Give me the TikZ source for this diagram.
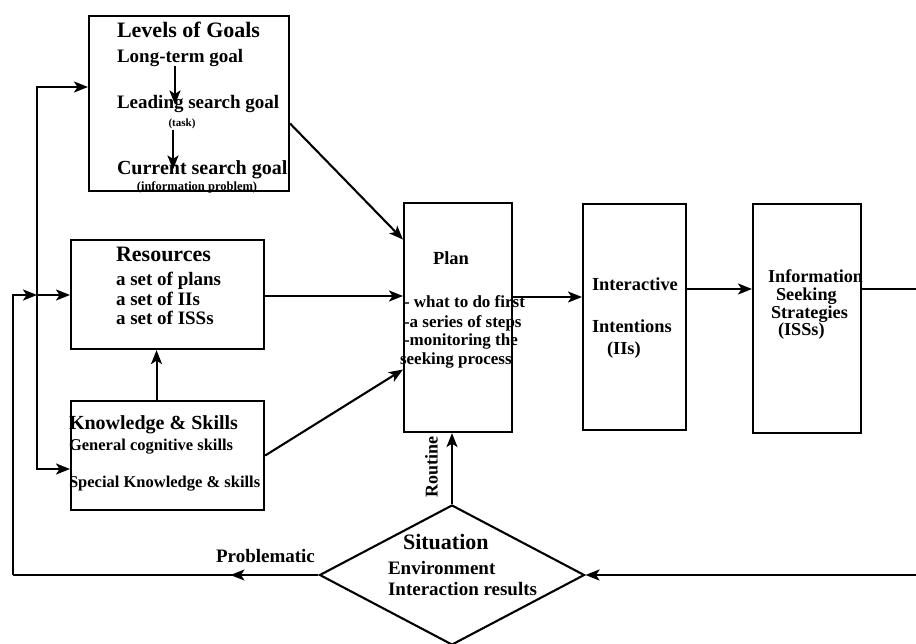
\documentclass[tikz,border=0pt]{standalone}
\usepackage{fontspec}
\setmainfont{Liberation Serif}
\usetikzlibrary{arrows.meta,calc,shapes.geometric,decorations.markings}
\newcommand\fsz[1]{\fontsize{#1}{#1}\selectfont}
\begin{document}
\begin{tikzpicture}[x=1pt,y=-1pt,
  line width=2.1pt,
  tip/.style={-{Stealth[length=14pt,width=11pt,inset=3.5pt]}},
  box/.style={draw,rectangle,inner sep=0,anchor=north west},
  txt/.style={inner sep=0,anchor=west,text height=.7em,text depth=.2em,font={\bfseries\fsz{#1}}},
  ctxt/.style={txt=#1,anchor=center},
  midtip/.style={postaction={decorate},decoration={markings,
    mark=at position #1 with {\arrow{Stealth[length=14pt,width=11pt,inset=3.5pt]}}}}]
\fill[white] (0,0) rectangle (916,644);
\useasboundingbox (0,0) rectangle (916,644);

% boxes
\node[box,minimum width=200pt,minimum height=175pt] (goals) at (88,15) {};
\node[box,minimum width=193pt,minimum height=109pt] (res) at (70,239) {};
\node[box,minimum width=193pt,minimum height=109pt] (know) at (70,400) {};
\node[box,minimum width=108pt,minimum height=229pt] (plan) at (403,202) {};
\node[box,minimum width=103pt,minimum height=226pt] (inter) at (582,203) {};
\node[box,minimum width=108pt,minimum height=229pt] (iss) at (752,203) {};
\node[draw,diamond,inner sep=0,minimum width=265pt,minimum height=140pt] (sit) at (452,575) {};

% levels of goals
\node[txt=22] (gt) at (116,35) {Levels of Goals};
\node[txt=19] (g1) at (116,60) {Long-term goal};
\node[txt=19] (g2) at (116,106) {Leading search goal};
\node[ctxt=11] (g2s) at (182,124) {(task)};
\node[txt=20] (g3) at (116,172) {Current search goal};
\node[ctxt=12.5] (g3s) at (197,188) {(information problem)};
\draw[tip] ([xshift=59pt]g1.south west) -- ([xshift=59pt,yshift=-4pt]g2.north west);
\draw[tip] ([xshift=-9pt]g2s.south) -- ([xshift=-9pt,yshift=-3pt]g2s.south |- g3.north);

% resources
\node[txt=22] (rt) at (115,259) {Resources};
\node[txt=19] (r1) at (115,283) {a set of plans};
\node[txt=19] (r2) at (115,303) {a set of IIs};
\node[txt=19] (r3) at (115,322) {a set of ISSs};

% knowledge and skills
\node[txt=20] (kt) at (68,427) {Knowledge \& Skills};
\node[txt=16.5] (k1) at (68,448) {General cognitive skills};
\node[txt=16.5] (k2) at (68,485) {Special Knowledge \& skills};

% plan
\node[ctxt=18.5] (pt) at (451,262) {Plan};
\node[txt=17] (p1) at (403,305) {- what to do first};
\node[txt=17] (p2) at (403,325) {-a series of steps};
\node[txt=17] (p3) at (403,343) {-monitoring the};
\node[txt=17] (p4) at (399,362) {seeking process};

% interactive intentions
\node[txt=18.4] (it1) at (591,288) {Interactive};
\node[txt=18.4] (it2) at (591,330) {Intentions};
\node[txt=18.4] (it3) at (606,352) {(IIs)};

% information seeking strategies
\node[txt=18.2] (s1) at (767,280) {Information};
\node[txt=18.2] (s2) at (775,298) {Seeking};
\node[txt=18.2] (s3) at (770,316) {Strategies};
\node[txt=18.2] (s4) at (777,333) {(ISSs)};

% situation
\node[txt=22] (st1) at (402,547) {Situation};
\node[txt=19] (st2) at (387,572) {Environment};
\node[txt=19] (st3) at (387,593) {Interaction results};

% edge labels
\node[txt=19] (lprob) at (215,560) {Problematic};
\node[ctxt=18,rotate=90] (lrout) at (435,467) {Routine};

% feedback loop on the left
\coordinate (c1) at (13,575);
\coordinate (c2) at (13,295);
\coordinate (j) at (37,295);
\coordinate (jt) at (37,87);
\coordinate (jb) at (37,469);
\draw[midtip=88pt] (sit.west) -- (c1);
\draw[tip] (c1) -- (c2) -- (j);
\draw[tip] (j) -- (res.west |- j);
\draw[tip] (j) -- (jt) -- (goals.west |- jt);
\draw[tip] (j) -- (jb) -- (know.west |- jb);

% inputs to the plan
\draw[tip] ($(goals.east)+(0,20)$) -- ($(plan.west)+(0,-78)$);
\draw[tip] (res.east |- 0,296) -- (plan.west |- 0,296);
\draw[tip] (know.east) -- ($(plan.west)+(0,52)$);
\draw[tip] ($(know.north)+(-11,0)$) -- ($(res.south)+(-11,0)$);

% main chain
\draw[tip] (plan.east |- 0,297) -- (inter.west |- 0,297);
\draw[tip] (inter.east |- 0,289) -- (iss.west |- 0,289);
\coordinate (e1) at (940,289);
\draw[tip] (iss.east |- e1) -- (e1) -- (e1 |- sit.east) -- (sit.east);
\draw[tip] (sit.north) -- (sit.north |- plan.south);
\end{tikzpicture}
\end{document}
